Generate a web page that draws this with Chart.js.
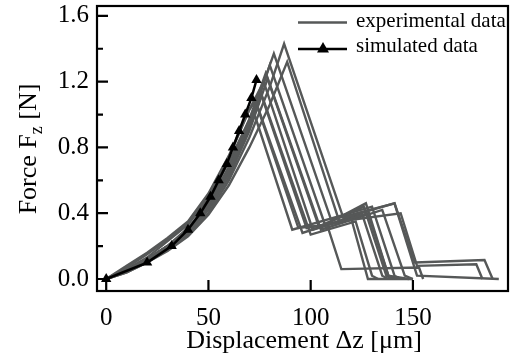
<!DOCTYPE html>
<html>
<head>
<meta charset="utf-8">
<script src="https://cdn.jsdelivr.net/npm/chart.js@4.4.1/dist/chart.umd.min.js"></script>
<style>
  html, body { margin: 0; padding: 0; background: #fff; }
  #wrap { width: 514px; height: 358px; }
</style>
</head>
<body>
<div id="wrap"><canvas id="chart" width="514" height="358"></canvas></div>
<script>
// simulated data (black line, triangles)
const simX = [0, 20, 32, 40, 46, 51, 55, 59, 62, 65, 68, 71, 73.5];
const simY = [0, 0.10, 0.20, 0.30, 0.40, 0.50, 0.60, 0.70, 0.80, 0.90, 1.00, 1.10, 1.21];

// experimental runs
const exp1X = [0, 10, 20, 30, 40, 50, 60, 70, 80, 87, 116, 141, 152, 192];
const exp1Y = [0, 0.04, 0.10, 0.18, 0.27, 0.40, 0.60, 0.86, 1.17, 1.43, 0.37, 0.46, 0.02, 0];
const exp2X = [0, 10, 20, 30, 40, 50, 60, 70, 80, 82, 110, 141, 151, 185, 189];
const exp2Y = [0, 0.05, 0.12, 0.20, 0.30, 0.45, 0.66, 0.95, 1.30, 1.37, 0.36, 0.46, 0.10, 0.115, 0];
const exp3X = [0, 10, 20, 30, 40, 50, 60, 70, 80, 88.5, 114, 144, 152, 181, 184];
const exp3Y = [0, 0.04, 0.10, 0.17, 0.26, 0.39, 0.57, 0.80, 1.06, 1.32, 0.35, 0.40, 0.08, 0.09, 0];
const exp4X = [0, 10, 20, 30, 40, 50, 60, 70, 80, 107, 127, 138, 148];
const exp4Y = [0, 0.05, 0.11, 0.19, 0.29, 0.43, 0.64, 0.93, 1.30, 0.33, 0.46, 0.02, 0];
const exp5X = [0, 10, 20, 30, 40, 50, 60, 70, 78, 104, 126, 137, 140];
const exp5Y = [0, 0.05, 0.12, 0.20, 0.30, 0.45, 0.67, 0.97, 1.25, 0.32, 0.44, 0.02, 0];
const exp6X = [0, 10, 20, 30, 40, 50, 60, 70, 77, 101, 128, 138, 142];
const exp6Y = [0, 0.05, 0.12, 0.20, 0.30, 0.45, 0.68, 0.96, 1.20, 0.30, 0.40, 0.02, 0];
const exp7X = [0, 10, 20, 30, 40, 50, 60, 70, 75, 98, 120, 128, 150];
const exp7Y = [0, 0.07, 0.15, 0.24, 0.34, 0.51, 0.74, 1.03, 1.15, 0.31, 0.36, 0, 0];
const exp8X = [0, 10, 20, 30, 40, 50, 60, 70, 76, 100, 122, 130, 133];
const exp8Y = [0, 0.05, 0.11, 0.19, 0.29, 0.44, 0.65, 0.92, 1.12, 0.27, 0.35, 0.02, 0];
const exp9X = [0, 10, 20, 30, 40, 50, 60, 70, 73, 94, 108, 115, 153, 155];
const exp9Y = [0, 0.08, 0.16, 0.25, 0.35, 0.52, 0.75, 1.03, 1.08, 0.31, 0.33, 0.06, 0.07, 0];
const exp10X = [0, 10, 20, 30, 40, 50, 60, 70, 74, 96, 125, 135, 138];
const exp10Y = [0, 0.05, 0.12, 0.20, 0.31, 0.46, 0.68, 0.93, 1.05, 0.28, 0.40, 0.02, 0];
const exp11X = [0, 10, 20, 30, 40, 50, 60, 70, 72, 91, 130, 141, 144];
const exp11Y = [0, 0.06, 0.13, 0.23, 0.33, 0.49, 0.71, 0.97, 1.02, 0.30, 0.44, 0.02, 0];
const exp12X = [0, 10, 20, 30, 40, 50, 60, 70, 79, 105, 135, 146, 150];
const exp12Y = [0, 0.05, 0.11, 0.18, 0.28, 0.42, 0.62, 0.90, 1.22, 0.30, 0.42, 0.02, 0];

const expRuns = [
  [exp1X, exp1Y], [exp2X, exp2Y], [exp3X, exp3Y], [exp4X, exp4Y],
  [exp5X, exp5Y], [exp6X, exp6Y], [exp7X, exp7Y], [exp8X, exp8Y],
  [exp9X, exp9Y], [exp10X, exp10Y], [exp11X, exp11Y], [exp12X, exp12Y]
];

const xTicks = [0, 50, 100, 150];
const yTicks = [0, 0.4, 0.8, 1.2, 1.6];
const legendLabels = ['experimental data', 'simulated data'];
const xTitle = 'Displacement \u0394z [\u03bcm]';

const GREY = '#565858';
const SERIF = '"Liberation Serif", "DejaVu Serif", serif';

function toPoints(xs, ys) {
  return xs.map((x, i) => ({ x: x, y: ys[i] }));
}

const datasets = [{
  label: legendLabels[1],
  data: toPoints(simX, simY),
  borderColor: '#000',
  backgroundColor: '#000',
  borderWidth: 2.5,
  pointStyle: 'triangle',
  pointRadius: 6,
  pointBorderWidth: 0,
  pointHoverRadius: 6
}];
expRuns.forEach(function (run, i) {
  datasets.push({
    label: i === 0 ? legendLabels[0] : '',
    data: toPoints(run[0], run[1]),
    borderColor: GREY,
    borderWidth: 2.4,
    pointRadius: 0,
    tension: 0
  });
});

// box, inward ticks, axis titles and legend
const decor = {
  id: 'decor',
  afterDraw(chart) {
    const ctx = chart.ctx;
    const a = chart.chartArea;
    const xs = chart.scales.x, ys = chart.scales.y;
    ctx.save();
    ctx.strokeStyle = '#000';
    ctx.lineWidth = 2.2;
    ctx.strokeRect(a.left, a.top, a.right - a.left, a.bottom - a.top);

    ctx.beginPath();
    xTicks.forEach(function (v) {
      const px = xs.getPixelForValue(v);
      ctx.moveTo(px, a.bottom); ctx.lineTo(px, a.bottom - 11);
    });
    yTicks.forEach(function (v, i) {
      const py = ys.getPixelForValue(v);
      ctx.moveTo(a.left, py); ctx.lineTo(a.left + 11, py);
      if (i < yTicks.length - 1) {
        const pm = ys.getPixelForValue((v + yTicks[i + 1]) / 2);
        ctx.moveTo(a.left, pm); ctx.lineTo(a.left + 6, pm);
      }
    });
    ctx.stroke();

    // x title
    ctx.fillStyle = '#000';
    ctx.font = '26px ' + SERIF;
    ctx.textAlign = 'center';
    ctx.textBaseline = 'alphabetic';
    ctx.fillText(xTitle, 304, 348);

    // y title with subscript
    const p1 = 'Force F', sub = 'z', p2 = ' [N]';
    ctx.save();
    ctx.translate(36, 149);
    ctx.rotate(-Math.PI / 2);
    ctx.font = '26px ' + SERIF;
    const w1 = ctx.measureText(p1).width, w3 = ctx.measureText(p2).width;
    ctx.font = '18px ' + SERIF;
    const w2 = ctx.measureText(sub).width;
    const x0 = -(w1 + w2 + w3) / 2;
    ctx.textAlign = 'left';
    ctx.font = '26px ' + SERIF;
    ctx.fillText(p1, x0, 0);
    ctx.font = '18px ' + SERIF;
    ctx.fillText(sub, x0 + w1, 6);
    ctx.font = '26px ' + SERIF;
    ctx.fillText(p2, x0 + w1 + w2, 0);
    ctx.restore();

    // legend
    ctx.font = '21px ' + SERIF;
    ctx.textAlign = 'left';
    ctx.textBaseline = 'middle';
    ctx.lineWidth = 2.4;
    ctx.strokeStyle = GREY;
    ctx.beginPath(); ctx.moveTo(298, 22.5); ctx.lineTo(347, 22.5); ctx.stroke();
    ctx.fillText(legendLabels[0], 356, 21);
    ctx.strokeStyle = '#000';
    ctx.lineWidth = 2.5;
    ctx.beginPath(); ctx.moveTo(298, 49); ctx.lineTo(347, 49); ctx.stroke();
    ctx.beginPath();
    ctx.moveTo(323, 42); ctx.lineTo(329, 52.5); ctx.lineTo(317, 52.5); ctx.closePath();
    ctx.fill();
    ctx.fillText(legendLabels[1], 356, 46);
    ctx.restore();
  }
};

new Chart(document.getElementById('chart'), {
  type: 'line',
  data: { datasets: datasets },
  plugins: [decor],
  options: {
    responsive: false,
    devicePixelRatio: 1,
    animation: false,
    events: [],
    layout: { padding: { top: 6, right: 2, left: 0, bottom: 0 } },
    plugins: { legend: { display: false }, tooltip: { enabled: false } },
    scales: {
      x: {
        type: 'linear',
        min: -4.5,
        max: 196.5,
        grid: { display: false, drawTicks: false },
        border: { display: false },
        afterBuildTicks(s) { s.ticks = xTicks.map(v => ({ value: v })); },
        ticks: {
          color: '#000',
          padding: 12,
          maxRotation: 0,
          autoSkip: false,
          font: { family: SERIF, size: 25 }
        },
        afterFit(s) { s.height = 67; s.paddingLeft = 0; s.paddingRight = 0; }
      },
      y: {
        type: 'linear',
        min: -0.073,
        max: 1.66,
        grid: { display: false, drawTicks: false },
        border: { display: false },
        afterBuildTicks(s) { s.ticks = yTicks.map(v => ({ value: v })); },
        ticks: {
          color: '#000',
          padding: 8,
          autoSkip: false,
          font: { family: SERIF, size: 25 },
          callback: v => v.toFixed(1)
        },
        afterFit(s) { s.width = 97; s.paddingTop = 0; s.paddingBottom = 0; }
      }
    }
  }
});
</script>
</body>
</html>
